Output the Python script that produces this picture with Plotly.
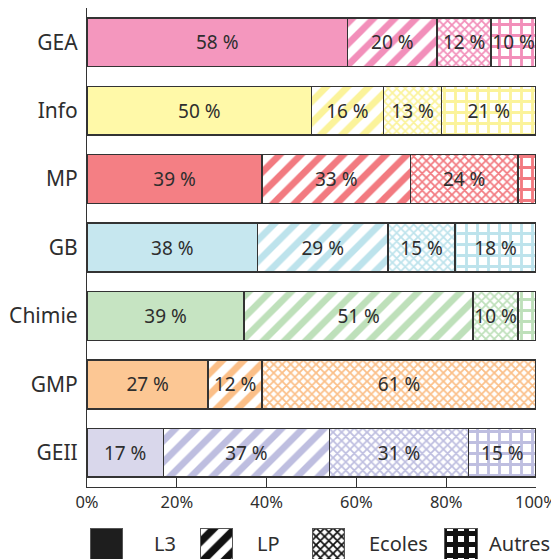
import plotly.graph_objects as go

# ---------------- data ----------------
categories = ["GEA", "Info", "MP", "GB", "Chimie", "GMP", "GEII"]
series_names = ["L3", "LP", "Ecoles", "Autres"]

l3 = [58, 50, 39, 38, 35, 27, 17]
lp = [20, 16, 33, 29, 51, 12, 37]
ecoles = [12, 13, 24, 15, 10, 61, 31]
autres = [10, 21, 4, 18, 4, 0, 15]

l3_labels = ["58 %", "50 %", "39 %", "38 %", "39 %", "27 %", "17 %"]
lp_labels = ["20 %", "16 %", "33 %", "29 %", "51 %", "12 %", "37 %"]
ecoles_labels = ["12 %", "13 %", "24 %", "15 %", "10 %", "61 %", "31 %"]
autres_labels = ["10 %", "21 %", "", "18 %", "", "", "15 %"]

tick_values = [0, 20, 40, 60, 80, 100]
tick_labels = ["0%", "20%", "40%", "60%", "80%", "100%"]

# ---------------- styles ----------------
cat_colors = ["#F497BE", "#FFF9A8", "#F47F84", "#C6E7EF", "#C6E4C2", "#FCC794", "#D9D7EB"]
pat_colors = ["#F28FBA", "#FBF39A", "#F27A80", "#BDE3EC", "#BEE0BA", "#FBBF88", "#BEBEE0"]
TEXT = "#2e2e2e"
LINE = "#333333"
FONT = "Noto Sans"

patterns = [
    None,
    dict(shape="/", size=15, solidity=0.45),
    dict(shape="x", size=6, solidity=0.5),
    dict(shape="+", size=11, solidity=0.45),
]
legend_solidity = [None, 0.5, 0.5, 0.7]

values = [l3, lp, ecoles, autres]
labels = [l3_labels, lp_labels, ecoles_labels, autres_labels]

fig = go.Figure()

for name, vals, txt, pat in zip(series_names, values, labels, patterns):
    marker = dict(color=cat_colors if pat is None else "white",
                  line=dict(color=LINE, width=1.5))
    if pat is not None:
        marker["pattern"] = dict(shape=pat["shape"], size=pat["size"],
                                 solidity=pat["solidity"], fgcolor=pat_colors,
                                 bgcolor="white", fillmode="replace")
    fig.add_trace(go.Bar(
        name=name, y=categories, x=vals, orientation="h",
        marker=marker, text=txt, textposition="inside",
        insidetextanchor="middle", textangle=0, constraintext="none",
        textfont=dict(family=FONT, size=19, color=TEXT),
        showlegend=False, hoverinfo="skip",
    ))

# ---------------- legend drawn as a small subplot ----------------
LEGEND_X = [0.7, 25.3, 50.2, 79.7]      # swatch start (x2 units, % of axis)
LEGEND_W = 7.2                           # swatch width
LEGEND_LABEL_X = [14.4, 37.4, 62.4, 89.1]

for name, pat, sol, x0 in zip(series_names, patterns, legend_solidity, LEGEND_X):
    marker = dict(color="#1e1e1e", line=dict(color="#555555", width=1))
    if pat is not None:
        marker = dict(color="white", line=dict(color="#555555", width=1),
                      pattern=dict(shape=pat["shape"], size=pat["size"],
                                   solidity=sol, fgcolor="#111111",
                                   bgcolor="white", fillmode="replace"))
    fig.add_trace(go.Bar(
        y=[0], x=[LEGEND_W], base=[x0], orientation="h", width=1,
        marker=marker, xaxis="x2", yaxis="y2",
        showlegend=False, hoverinfo="skip",
    ))

for name, lx in zip(series_names, LEGEND_LABEL_X):
    fig.add_annotation(x=lx, y=-0.5, xref="x2", yref="y2", text=name,
                       showarrow=False, xanchor="left", yanchor="bottom",
                       font=dict(family=FONT, size=20, color=TEXT))

# page body has an 8px margin: figure occupies 8..559 in both directions
FIG_W = 551
FIG_H = 551
main_bottom = (559 - 487) / FIG_H
leg_top = (559 - 528) / FIG_H

fig.update_layout(
    width=FIG_W, height=FIG_H,
    margin=dict(l=79, r=23, t=0, b=0, pad=0),
    barmode="stack", bargap=0.287,
    plot_bgcolor="white", paper_bgcolor="white",
    font=dict(family=FONT, color=TEXT),
    xaxis=dict(domain=[0, 1], range=[0, 100], tickvals=tick_values, ticktext=tick_labels,
               ticks="inside", ticklen=9, tickwidth=1.2, tickcolor=LINE,
               showline=True, linecolor=LINE, linewidth=1.2,
               showgrid=False, zeroline=False, anchor="y", automargin=False,
               tickfont=dict(family=FONT, size=16.5, color=TEXT)),
    yaxis=dict(domain=[main_bottom, 1], categoryorder="array", categoryarray=categories,
               autorange="reversed", showline=True, linecolor=LINE, linewidth=1.2,
               ticks="", showgrid=False, zeroline=False, ticklabelstandoff=4,
               automargin=False,
               tickfont=dict(family=FONT, size=21, color=TEXT)),
    xaxis2=dict(domain=[0, 1], range=[0, 100], anchor="y2", visible=False, fixedrange=True),
    yaxis2=dict(domain=[0, leg_top], range=[-0.5, 0.5], anchor="x2", visible=False, fixedrange=True),
)

fig.write_html("out.html")
